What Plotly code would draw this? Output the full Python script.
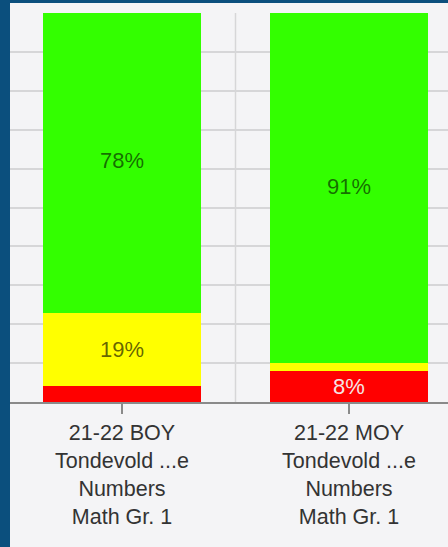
import plotly.graph_objects as go

# Benchmark results per assessment window (percent of students)
categories = [
    "21-22 BOY<br>Tondevold ...e<br>Numbers<br>Math Gr. 1",
    "21-22 MOY<br>Tondevold ...e<br>Numbers<br>Math Gr. 1",
]
red_vals = [4, 8]
yellow_vals = [19, 2]
green_vals = [78, 91]

red_text = ["", "8%"]
yellow_text = ["19%", ""]
green_text = ["78%", "91%"]

W, H = 448, 547
ML, MT, MB = 10, 13, 145
plot_w = W - ML
plot_h = H - MT - MB

BG = "#f4f4f6"
FRAME = "#0b4f7d"
GRID = "#d6d6d8"
AXIS = "#8a8a8a"
FONT = "Liberation Sans, Arial, sans-serif"

x_idx = list(range(len(categories)))

fig = go.Figure()
fig.add_trace(go.Bar(
    x=x_idx, y=red_vals, text=red_text, marker_color="#ff0000",
    textfont=dict(color="#f6e4e4", size=22), width=0.7,
))
fig.add_trace(go.Bar(
    x=x_idx, y=yellow_vals, text=yellow_text, marker_color="#ffff00",
    textfont=dict(color="rgba(0,0,0,0.62)", size=22), width=0.7,
))
fig.add_trace(go.Bar(
    x=x_idx, y=green_vals, text=green_text, marker_color="#33ff00",
    textfont=dict(color="rgba(0,0,0,0.58)", size=22), width=0.7,
))
fig.update_traces(textposition="inside", insidetextanchor="middle",
                  textangle=0, marker_line_width=0, hoverinfo="skip")

# category spacing of 227 px with the first bar centred at x=122
span = plot_w / 227.0
x0 = -(122 - ML) / 227.0

shapes = []
# vertical grid lines between categories
for b in [i + 0.5 for i in range(len(categories) - 1)]:
    shapes.append(dict(type="line", xref="x", yref="paper", x0=b, x1=b,
                       y0=0, y1=1, line=dict(color=GRID, width=1.5),
                       layer="below"))
# dark frame along the left and top edges
shapes.append(dict(type="rect", xref="paper", yref="paper",
                   x0=-ML / plot_w, x1=0, y0=-MB / plot_h - 0.05,
                   y1=(plot_h + MT) / plot_h + 0.05,
                   fillcolor=FRAME, line_width=0, layer="above"))
shapes.append(dict(type="rect", xref="paper", yref="paper",
                   x0=-ML / plot_w, x1=1.05, y0=(plot_h + MT - 3) / plot_h,
                   y1=(plot_h + MT) / plot_h + 0.05,
                   fillcolor=FRAME, line_width=0, layer="above"))

fig.update_layout(
    width=W, height=H,
    margin=dict(l=ML, r=0, t=MT, b=MB),
    barmode="stack",
    showlegend=False,
    paper_bgcolor=BG, plot_bgcolor=BG,
    font=dict(family=FONT, color="#333333", size=22),
    uniformtext=dict(minsize=22, mode="show"),
    shapes=shapes,
    xaxis=dict(
        range=[x0, x0 + span],
        tickmode="array", tickvals=x_idx, ticktext=categories,
        showgrid=False, zeroline=False,
        showline=True, linecolor=AXIS, linewidth=2,
        ticks="outside", ticklen=10, tickwidth=1.5, tickcolor=AXIS,
        tickfont=dict(size=21.5, color="#333333"),
    ),
    yaxis=dict(
        range=[0, 100], dtick=10,
        showgrid=True, gridcolor=GRID, gridwidth=1.5,
        zeroline=False, showticklabels=False, ticks="",
    ),
)

fig.write_html("out.html")
